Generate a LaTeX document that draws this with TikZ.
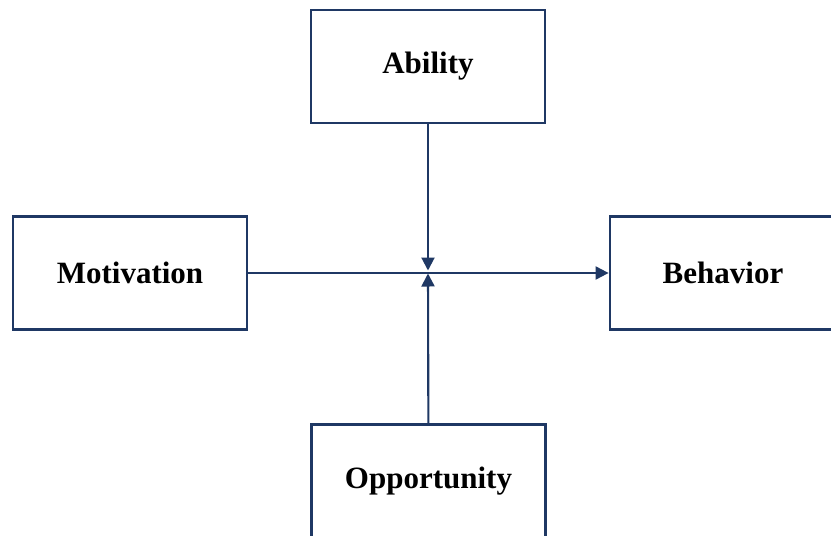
\documentclass[tikz,border=0pt]{standalone}
\usepackage{fontspec}
\setmainfont{Liberation Serif}
\usetikzlibrary{arrows.meta}
\definecolor{navy}{HTML}{1F3864}
\begin{document}
\begin{tikzpicture}[x=1pt,y=-1pt,
  factor/.style={rectangle,draw=navy,line width=2.8pt,fill=white,
    minimum width=234pt,minimum height=113pt,
    font=\fontsize{31}{36}\selectfont\bfseries},
  link/.style={draw=navy,line width=2.1pt,-{Triangle[length=13pt,width=13pt]}}]
\useasboundingbox (0,0) rectangle (831,536);
\node [factor] (ability) at (428,66.5) {Ability};
\node [factor] (motivation) at (130,273) {Motivation};
\node [factor,minimum width=226pt] (behavior) at (723,273) {Behavior};
\node [factor] (opportunity) at (428.5,481) {Opportunity};
\coordinate (hub) at (428,272);
% the two conditions meet the main line
\draw [link] (motivation) -- (behavior);
\draw [link,shorten >=1.5pt] (ability) -- (hub);
\draw [link,shorten >=1.5pt] (opportunity) -- (hub);
\end{tikzpicture}
\end{document}
